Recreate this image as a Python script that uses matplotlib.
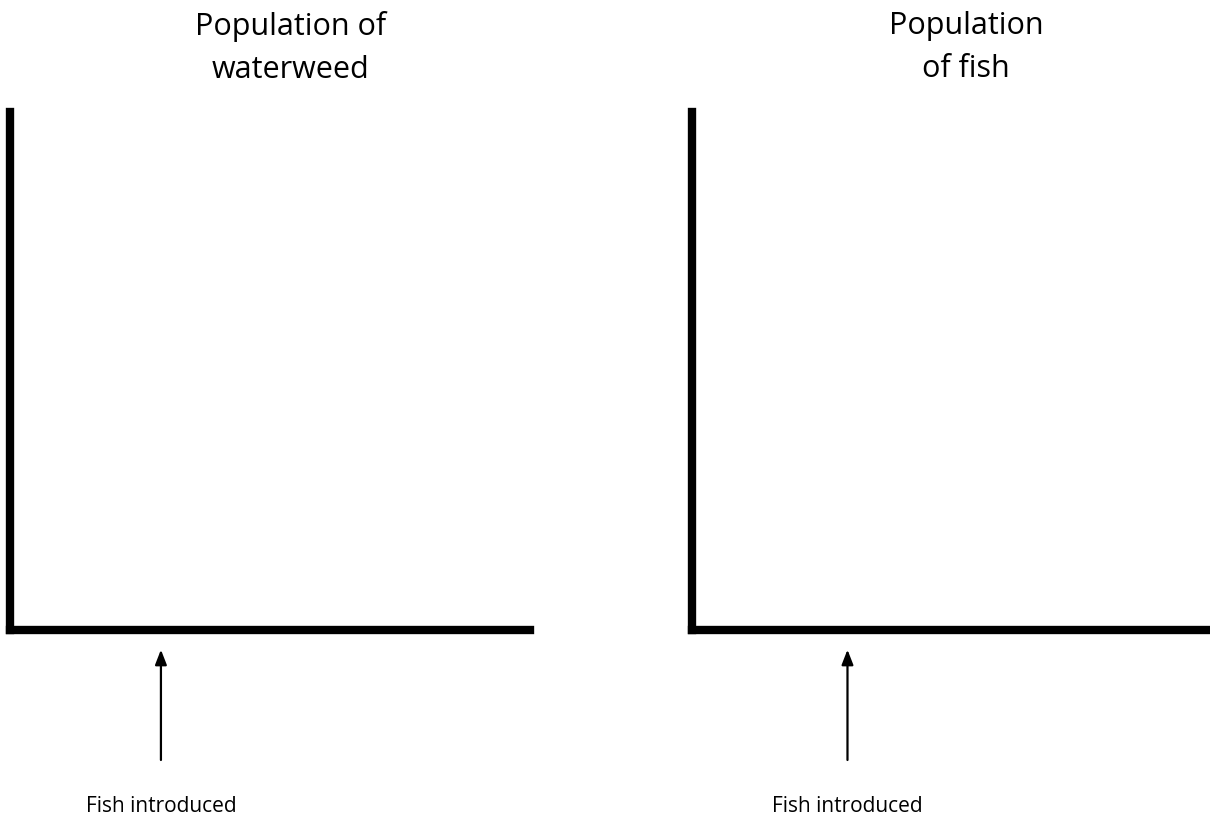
import matplotlib
matplotlib.use("Agg")
import matplotlib.pyplot as plt

plt.rcParams["font.family"] = ["Open Sans", "DejaVu Sans"]

# chart content
titles = ["Population of\nwaterweed", "Population\nof fish"]
arrow_labels = ["Fish introduced", "Fish introduced"]
x_range = [0, 10]
y_range = [0, 10]
intro_time = [2.9, 3.0]
title_centre = [0.540, 0.529]

fig = plt.figure(figsize=(12.1, 8.18), dpi=100)

axes_boxes = [
    [0.0083, 0.2298, 0.430, 0.633],
    [0.5720, 0.2298, 0.428, 0.633],
]

for box, title, cx, label, t in zip(axes_boxes, titles, title_centre, arrow_labels, intro_time):
    ax = fig.add_axes(box)
    ax.set_xlim(x_range)
    ax.set_ylim(y_range)
    for side in ["top", "right"]:
        ax.spines[side].set_visible(False)
    for side in ["left", "bottom"]:
        ax.spines[side].set_linewidth(6)
        ax.spines[side].set_capstyle("projecting")
    ax.set_xticks([])
    ax.set_yticks([])

    ax.text(cx, 1.195, title, transform=ax.transAxes, ha="center", va="top",
            fontsize=22, linespacing=1.55)

    # arrow from label up to the x axis
    ax.annotate("", xy=(t, -0.038), xytext=(t, -0.251),
                xycoords=("data", "axes fraction"),
                textcoords=("data", "axes fraction"),
                annotation_clip=False,
                arrowprops=dict(arrowstyle="-|>,head_length=0.9,head_width=0.35",
                                color="black", lw=1.6, shrinkA=0, shrinkB=0))
    ax.text(t, -0.352, label, transform=ax.get_xaxis_transform(),
            ha="center", va="baseline", fontsize=15)

fig.savefig("out.png", dpi=100)
